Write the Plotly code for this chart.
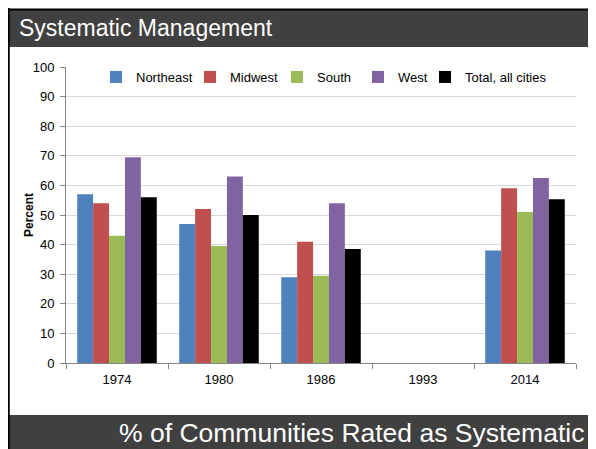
import plotly.graph_objects as go

# =============================================================================
# DATA
# =============================================================================
years = ["1974", "1980", "1986", "1993", "2014"]
northeast = [57, 47, 29, None, 38]
midwest = [54, 52, 41, None, 59]
south = [43, 39.5, 29.5, None, 51]
west = [69.5, 63, 54, None, 62.5]
total = [56, 50, 38.5, None, 55.3]

series = [
    ("Northeast", northeast, "#4F81BD"),
    ("Midwest", midwest, "#C0504D"),
    ("South", south, "#9BBB59"),
    ("West", west, "#8064A2"),
    ("Total, all cities", total, "#000000"),
]

# =============================================================================
# LAYOUT HELPERS
# the page body has an 8px margin, so the figure starts at (8, 8) on screen;
# helpers take screen pixels and return paper coordinates
# =============================================================================
OFF = 8
W, H = 588, 441
L, R, T, B = 58, 20, 59, 86
PW, PH = W - L - R, H - T - B

def px_x(x):
    return (x - OFF - L) / PW

def px_y(y):
    return (H - B - (y - OFF)) / PH

FONT = "Liberation Sans, Arial, sans-serif"

# one small legend per series so each entry sits where the original has it
legend_left = [96, 190, 277, 358, 425]
legend_ids = ["legend", "legend2", "legend3", "legend4", "legend5"]

fig = go.Figure()
for (name, vals, color), lid in zip(series, legend_ids):
    fig.add_trace(go.Bar(x=years, y=vals, name=name, marker_color=color,
                         marker_line_width=0, legend=lid, showlegend=True))

shapes = [
    # header bar
    dict(type="rect", xref="paper", yref="paper", x0=px_x(8), x1=px_x(596),
         y0=px_y(47), y1=px_y(9), fillcolor="#404040", line_width=0, layer="above"),
    # footer bar
    dict(type="rect", xref="paper", yref="paper", x0=px_x(8), x1=px_x(596),
         y0=px_y(452), y1=px_y(415), fillcolor="#404040", line_width=0, layer="above"),
    # top black line
    dict(type="line", xref="paper", yref="paper", x0=px_x(8), x1=px_x(596),
         y0=px_y(9.5), y1=px_y(9.5), line=dict(color="#000000", width=2), layer="above"),
    # left border
    dict(type="line", xref="paper", yref="paper", x0=px_x(8.5), x1=px_x(8.5),
         y0=px_y(8), y1=px_y(452), line=dict(color="#000000", width=2.5), layer="above"),
    # right border
    dict(type="line", xref="paper", yref="paper", x0=px_x(595), x1=px_x(595),
         y0=px_y(9), y1=px_y(452), line=dict(color="#2a2a2a", width=2), layer="above"),
]

annotations = [
    dict(text="Systematic Management", xref="paper", yref="paper",
         x=px_x(17), y=px_y(28), xanchor="left", yanchor="middle", showarrow=False,
         font=dict(family=FONT, size=23, color="white")),
    dict(text="% of Communities Rated as Systematic", xref="paper", yref="paper",
         x=px_x(586), y=px_y(433), xanchor="right", yanchor="middle", showarrow=False,
         font=dict(family=FONT, size=26.5, color="white")),
    # y axis title
    dict(text="<b>Percent</b>", xref="paper", yref="paper", textangle=-90,
         x=px_x(29), y=px_y(215), xanchor="center", yanchor="middle", showarrow=False,
         font=dict(family=FONT, size=12, color="black")),
]

legend_style = dict(orientation="h", yanchor="middle", xanchor="left",
                    font=dict(family=FONT, size=13), bgcolor="rgba(0,0,0,0)",
                    itemclick=False, itemdoubleclick=False)
legends = {lid: dict(legend_style, x=px_x(lx), y=px_y(77))
           for lid, lx in zip(legend_ids, legend_left)}

fig.update_layout(
    width=W, height=H,
    margin=dict(l=L, r=R, t=T, b=B),
    paper_bgcolor="white", plot_bgcolor="white",
    font=dict(family=FONT, size=13, color="#000000"),
    showlegend=True,
    barmode="group", bargap=0.22, bargroupgap=0,
    shapes=shapes, annotations=annotations,
    xaxis=dict(showgrid=False, showline=True, linecolor="#868686", linewidth=1,
               ticks="outside", tickson="boundaries", ticklen=5, tickcolor="#868686",
               tickfont=dict(size=13), ticklabelstandoff=4),
    yaxis=dict(range=[0, 100], dtick=10, showgrid=True, gridcolor="#D9D9D9", gridwidth=1,
               showline=True, linecolor="#868686", linewidth=1, ticks="outside",
               ticklen=5, tickcolor="#868686", tickfont=dict(size=13),
               ticklabelstandoff=3, zeroline=False),
    **legends,
)

fig.write_html("out.html")
